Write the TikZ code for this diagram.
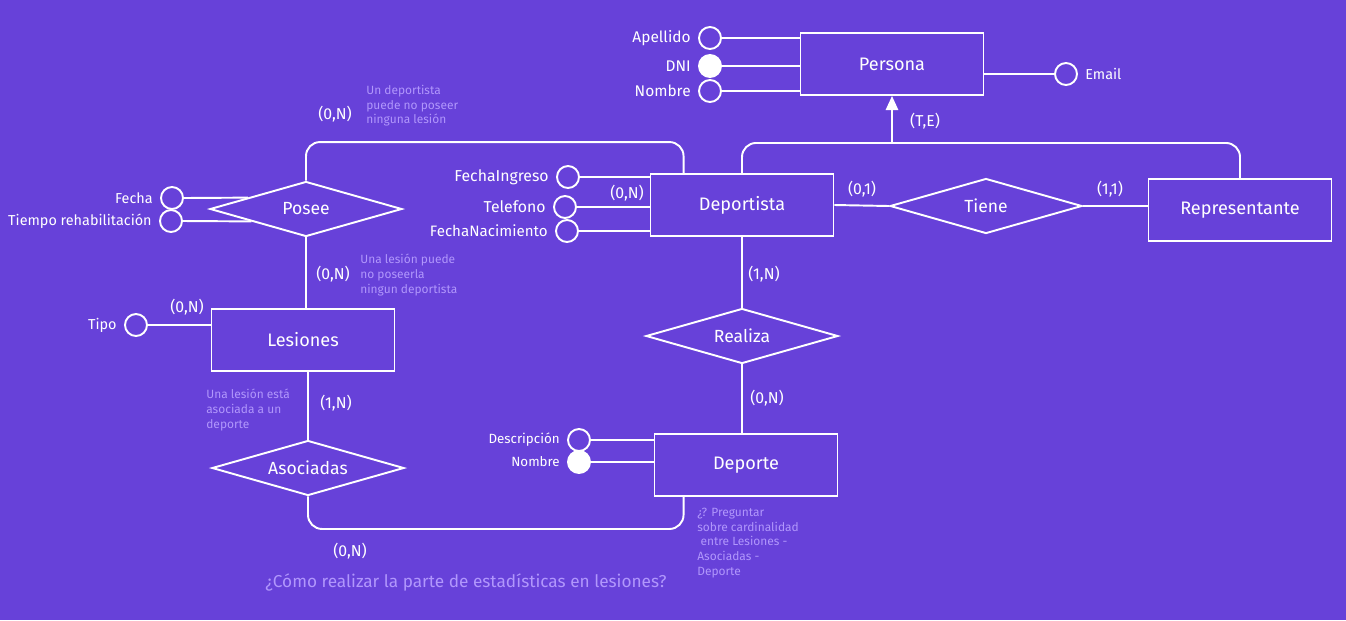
\documentclass[tikz,border=0pt]{standalone}
\usepackage{fontspec}
\setmainfont{Fira Sans}
\usetikzlibrary{shapes.geometric,positioning,calc,arrows.meta}
\definecolor{fondo}{RGB}{103,65,217}
\definecolor{lila}{RGB}{177,151,252}
\tikzset{
  linea/.style={white, line width = 1.1pt},
  entidad/.style={draw=white, line width = 1.1pt, minimum width=3.66cm, minimum height=1.24cm, font=\fontsize{10.3}{12}\selectfont},
  relacion/.style={draw=white, diamond, aspect=3.5, line width = 1.1pt, minimum width=3.84cm, minimum height=1.1cm, inner sep=0pt, font=\fontsize{10}{12}\selectfont},
  atributo/.style={circle, draw=white, line width = 1.1pt, minimum size=0.44cm, inner sep=0pt},
  clave/.style={atributo, fill=white},
  nombre/.style={font=\fontsize{#1}{#1}\selectfont, inner sep=1pt},
  nombre/.default=8.2,
  card/.style={font=\fontsize{9}{11}\selectfont, inner sep=0pt},
  nota/.style={text=lila, align=left, anchor=north west, font=\fontsize{6.8}{8.3}\selectfont, inner sep=0pt}
}
\newcommand\card[4]{\node[card] (#1) at (#2,#3) {#4};}

\begin{document}
\begin{tikzpicture}[x=0.02cm, y=-0.02cm, text=white]
\fill[fondo] (0,0) rectangle (1346,620);
\useasboundingbox (0,0) rectangle (1346,620);

\node[entidad] (persona) at (892,64) {Persona};
\node[entidad] (deportista) at (742,205) {Deportista};
\node[entidad] (representante) at (1240,210) {Representante};
\node[entidad] (lesiones) at (303,340) {Lesiones};
\node[entidad] (deporte) at (746,465) {Deporte};
\node[relacion] (posee) at (306,209) {Posee};
\node[relacion] (tiene) at (986,206) {Tiene};
\node[relacion] (realiza) at (742,336) {Realiza};
\node[relacion] (asociadas) at (308,468) {Asociadas};

\node[atributo] (apellido) at (710,38) {};
\node[clave] (dni) at (710,66) {};
\node[atributo] (nombre) at (710,91) {};
\node[atributo] (email) at (1066,74) {};
\node[atributo] (fechaing) at (568,177) {};
\node[atributo] (telefono) at (565,207) {};
\node[atributo] (fechanac) at (567,231) {};
\node[atributo] (fecha) at (172,198) {};
\node[atributo] (tiempo) at (171,221) {};
\node[atributo] (tipo) at (136,325) {};
\node[atributo] (descripcion) at (579,440) {};
\node[clave] (nombredep) at (579,462) {};

\node[nombre=8.8, left=3pt of apellido] (apellidotxt) {Apellido};
\node[nombre=8.8, left=3pt of dni] (dnitxt) {DNI};
\node[nombre=8.8, left=3pt of nombre] (nombretxt) {Nombre};
\node[nombre, right=3pt of email] (emailtxt) {Email};
\node[nombre=9, left=3pt of fechaing] (fechaingtxt) {FechaIngreso};
\node[nombre=9, left=3pt of telefono] (telefonotxt) {Telefono};
\node[nombre=8.6, left=3pt of fechanac] (fechanactxt) {FechaNacimiento};
\node[nombre, left=3pt of fecha] (fechatxt) {Fecha};
\node[nombre, left=3pt of tiempo] (tiempotxt) {Tiempo rehabilitación};
\node[nombre, left=3pt of tipo] (tipotxt) {Tipo};
\node[nombre=7.6, left=3pt of descripcion] (descripciontxt) {Descripción};
\node[nombre=7.6, left=3pt of nombredep] (nombredeptxt) {Nombre};

\draw[linea] (apellido.east) -- (persona.west |- apellido.east);
\draw[linea] (dni.east) -- (persona.west |- dni.east);
\draw[linea] (nombre.east) -- (persona.west |- nombre.east);
\draw[linea] (email.west) -- (persona.east |- email.west);
\draw[linea] (fechaing.east) -- (deportista.west |- fechaing.east);
\draw[linea] (telefono.east) -- (deportista.west |- telefono.east);
\draw[linea] (fechanac.east) -- (deportista.west |- fechanac.east);
\draw[linea] (fecha.east) -- ($(posee.west)!0.4!(posee.north)$);
\draw[linea] (tiempo.east) -- ($(posee.west)!0.436!(posee.south)$);
\draw[linea] (tipo.east) -- (lesiones.west |- tipo.east);
\draw[linea] (descripcion.east) -- (deporte.west |- descripcion.east);
\draw[linea] (nombredep.east) -- (deporte.west |- nombredep.east);

\draw[linea, rounded corners=8] (posee.north) |- ($(deportista.north west)+(34,-31)$) -- ($(deportista.north west)+(34,0)$);
\draw[linea] (posee.south) -- (posee.south |- lesiones.north);
\draw[linea] (asociadas.north |- lesiones.south) -- (asociadas.north);
\draw[linea, rounded corners=8] (asociadas.south) |- ($(deporte.south west)+(30,32)$) -- ($(deporte.south west)+(30,0)$);
\draw[linea] (deportista.south) -- (realiza.north);
\draw[linea] (realiza.south) -- (realiza.south |- deporte.north);
\draw[linea] (deportista.east) -- (tiene.west);
\draw[linea] (tiene.east) -- (representante.west |- tiene.east);
\coordinate (isa) at ($(persona.south)+(0,47)$);
\draw[linea, rounded corners=8] (deportista.north) |- (isa);
\draw[linea, rounded corners=8] (representante.north) |- (isa);
\draw[linea, -{Triangle[width=7pt,length=8pt]}] (isa) -- (persona.south);

\card{cte}{925}{121}{(T,E)}
\card{cposee}{335}{114}{(0,N)}
\card{cdeportista}{627}{193}{(0,N)}
\card{ctiene}{862}{189}{(0,1)}
\card{crepre}{1110}{189}{(1,1)}
\card{crealiza}{764}{274}{(1,N)}
\card{cdeporte}{767}{398}{(0,N)}
\card{clesposee}{333}{274}{(0,N)}
\card{ctipo}{187}{307}{(0,N)}
\card{clesasoc}{336}{403}{(1,N)}
\card{casoc}{350}{551}{(0,N)}

\node[nota] (notaposee) at (366,85) {Un deportista\\puede no poseer\\ninguna lesión};
\node[nota] (notalesion) at (360,254) {Una lesión puede\\no poseerla\\ningun deportista};
\node[nota] (notaasoc) at (206,389) {Una lesión está\\asociada a un\\deporte};
\node[nota] (notadeporte) at (697,508) {¿? Preguntar\\sobre cardinalidad\\\ entre Lesiones -\\Asociadas -\\Deporte};
\node[nota, anchor=west, font=\fontsize{9.8}{11}\selectfont] (pregunta) at (265,582) {¿Cómo realizar la parte de estadísticas en lesiones?};
\end{tikzpicture}
\end{document}
